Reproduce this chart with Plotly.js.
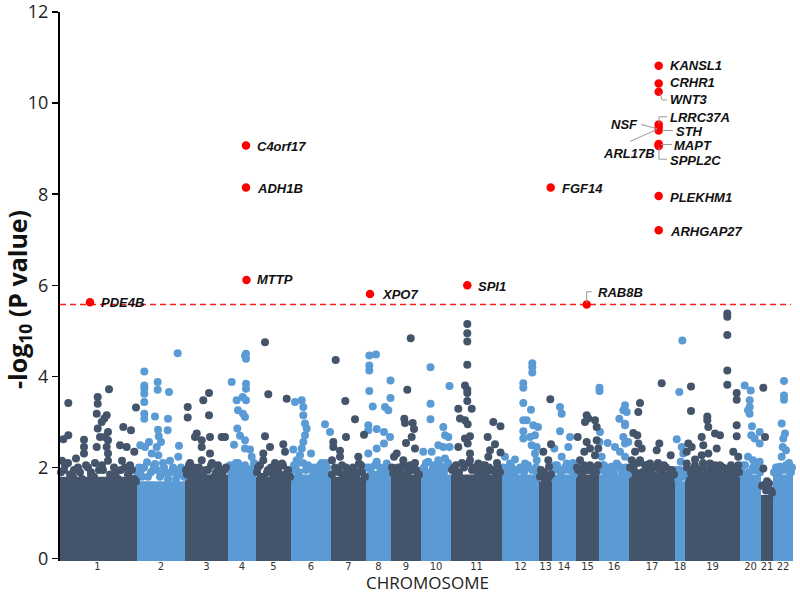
<!DOCTYPE html>
<html>
<head>
<meta charset="utf-8">
<script src="https://cdn.plot.ly/plotly-3.0.1.min.js"></script>
<style>
  html, body { margin: 0; padding: 0; background: #fff; }
  #chart { width: 800px; height: 594px; }
</style>
</head>
<body>
<div id="chart"></div>
<script>
// ---------------- DATA ----------------
// Chromosomes along the x axis (cumulative SNP-index units)
const chrNames = ['1','2','3','4','5','6','7','8','9','10','11','12','13','14','15','16','17','18','19','20','21','22'];
const chrStart = [0, 79, 127, 170, 198, 233, 273, 308, 333, 363, 393, 444, 481, 494, 518, 541, 571, 617, 627, 682, 703, 715];
const chrEnd   = [79, 127, 170, 198, 233, 273, 308, 333, 363, 393, 444, 481, 494, 518, 541, 571, 617, 627, 682, 703, 715, 735];
// top of the saturated band of SNPs in each chromosome, -log10 P
const chrDenseTop = [1.8, 1.7, 1.85, 1.85, 1.8, 1.85, 1.8, 1.85, 1.85, 1.85, 1.85, 1.85, 1.7, 1.85, 1.85, 1.85, 1.9, 1.7, 1.9, 1.85, 1.4, 1.85];

// SNPs at the ragged upper edge of the dense band
const edgePos = [
  3,7,12,16,20,24,28,33,36,41,44,52,56,60,63,67,71,74,78,
  80,83,86,90,93,96,99,103,106,110,113,117,120,123,126,
  129,131,134,138,141,145,150,153,156,160,164,168,
  171,174,177,180,183,187,190,193,196,
  199,202,206,209,213,218,222,225,229,232,
  234,238,241,245,248,252,255,259,262,265,269,272,
  274,277,281,285,288,292,296,300,303,307,
  309,313,317,320,324,328,331,
  334,338,342,345,350,354,357,361,
  364,368,371,375,379,382,386,390,
  394,398,401,406,411,414,418,423,427,431,435,439,442,
  445,449,453,458,462,466,470,474,478,
  482,486,490,493,
  495,499,503,507,511,515,517,
  519,523,526,530,534,538,540,
  542,545,549,552,556,560,564,568,570,
  572,576,580,584,588,592,596,600,604,608,612,616,
  618,622,626,
  629,633,637,641,645,649,653,657,661,665,669,673,677,681,
  683,687,691,695,699,702,
  704,708,711,714,
  716,720,724,728,732,734
];
const edgeLogP = [
  1.9,2.05,1.85,1.95,2.0,1.75,2.05,1.9,1.8,1.95,2.05,1.85,2.0,1.75,1.95,2.0,1.8,1.95,1.7,
  1.85,1.95,2.0,1.8,1.9,2.05,1.95,1.85,2.0,1.75,1.9,1.95,1.85,2.0,1.8,
  1.85,2.05,1.9,1.8,2.0,1.85,1.95,2.05,1.8,1.95,1.85,2.0,
  1.95,1.85,2.0,2.1,1.9,2.05,1.95,1.9,2.1,
  1.9,2.05,1.8,1.9,2.0,1.95,1.85,2.05,1.9,1.8,
  1.95,2.05,1.9,2.1,1.95,2.0,1.85,1.95,2.05,1.9,2.0,1.85,
  1.85,2.0,1.9,1.8,2.0,1.85,1.95,1.9,2.05,1.8,
  2.0,1.9,2.05,1.85,1.95,2.0,1.9,
  2.0,1.85,1.95,2.05,1.9,1.95,2.1,1.85,
  1.95,2.1,1.9,2.0,1.95,2.05,1.9,2.1,
  1.95,2.05,1.9,2.0,2.1,1.95,2.0,1.9,2.05,2.0,1.95,2.1,1.9,
  2.0,1.9,2.05,1.95,2.0,1.9,2.05,1.95,2.0,
  1.8,1.9,1.75,1.85,
  1.95,2.05,1.9,2.0,1.95,2.1,1.9,
  2.0,1.9,2.05,1.95,2.0,1.9,2.05,
  1.95,2.05,1.9,2.0,1.95,2.05,1.9,2.0,1.85,
  2.0,1.95,2.1,1.9,2.05,1.95,2.0,2.1,1.9,2.0,1.95,1.85,
  1.85,1.95,1.8,
  2.0,1.9,2.05,1.95,2.1,1.9,2.0,2.05,1.95,2.0,1.9,2.05,1.95,1.9,
  1.95,2.05,1.9,2.0,1.95,1.9,
  1.6,1.5,1.65,1.45,
  1.9,2.0,1.95,2.05,1.9,2.0
];

// SNPs standing above the dense band: cumulative position and -log10 P
const snpPos = [
  // chr1
  10.3,10.3,5.3,26,26,26,39.7,39.7,38.7,51,48.7,46.3,43.7,39.7,42,47,50,50,48.7,50,38.7,65.3,73,78,62,68.7,76.3,
  10,18,30,37,50,64,72,6,22,45,58,15,33,55,70,76,4,
  // chr2
  86.3,86.3,86.3,86.3,86.3,86.3,86.3,99.7,99.7,111,97,110,100,100.7,103,98.7,100.3,109.7,91,82.3,87,93.7,121,119.7,120.3,105,97,89,
  81,95,108,115,124,84,102,118,112,
  // chr3
  129.7,129.7,145.3,151,151,138.7,137,163.7,167,152,152,143.7,143.7,132,143.7,154,160,
  128,136,148,158,166,140,133,162,
  // chr4
  173.7,178.7,180,179.3,187,188,188,188,188,184.7,188,185,187,187,187,193.7,182,176,192,
  172,178,185,195,181,190,
  // chr5
  207,210.3,228.7,207,212,225.3,227,205.3,205.3,217,224,
  200,210,215,221,230,203,226,
  // chr6
  237,243.7,245.3,245.3,247,248.7,247,245.3,243.7,267,272,253,238.7,242,263.7,262,235.3,
  236,250,256,268,240,258,266,
  // chr7
  277.7,287.3,297,288,306,275.3,275.3,282,282,300.3,301,274,284,
  278,290,295,304,286,298,
  // chr8
  311.3,318,311.3,311.3,311.3,314.7,332.5,332.5,327,330.3,310.3,310.3,318.7,326,326,332,318.7,310.3,318.7,328.7,
  312,322,330,315,326,
  // chr9
  352.7,349.3,346.3,347,354.7,356,353.7,348,357,336,338.7,345.3,335.3,347,
  340,352,358,343,360,
  // chr10
  372.5,372.5,372.5,365.3,391.5,385.3,387,390.3,380.3,385.3,391.5,373.7,370.3,380.3,387,377,383.7,
  366,376,389,369,381,
  // chr11
  409.3,409.3,409.3,409.3,407,409.3,409.3,409.3,400.3,413.7,402,407,409.7,435.3,442.5,412,407,409.7,429.7,400.3,437,432,430.3,412,412,420.3,428.7,437.7,442.5,
  396,404,416,424,440,398,420,433,
  // chr12
  474.3,474.3,474.3,465.3,465.3,465.3,473,465.3,468.7,475.3,480,477,472,465.3,465.3,473.7,478.7,477,478.7,457,452,467,447,453.7,447,
  450,460,470,479,456,
  // chr13
  492.3,493,485.3,490.3,491,484,487,
  483,489,
  // chr14
  502,503.7,502,512,496.3,503.7,508.7,510.3,500.3,
  497,506,514,516,
  // chr15
  528.7,530.3,527,537,538.7,519.7,528.7,538.7,526.3,532,540.3,522,532,527,537,
  520,535,524,
  // chr16
  541.5,541.5,549.7,542,541.5,543.7,542,552,567,565.3,568.7,561.3,567,567,565.3,567,557,562,570.3,558.7,567,553.7,
  546,556,563,570,548,
  // chr17
  603.7,582,580.3,575.3,579.3,601.3,598.7,580.3,583.7,612.7,577,582,587,592,597,573.7,578.7,602,608.7,593.7,
  575,590,606,614,585,
  // chr18
  624.3,621.3,618.7,623.7,622.7,625.3,620.3,
  619,625,
  // chr19
  669.3,669.3,669.3,669.3,669.3,633,678.7,678.7,633,649.3,649.3,650.3,678.7,657,662,678.7,643.7,645.3,630.3,633.7,658.7,650.3,643.7,637,652,675.3,680.3,670.3,680.3,628.7,628.7,632,638.7,665.3,
  635,645,655,662,672,680,640,668,
  // chr20
  686.7,692.7,691.7,691.7,690,691.7,694,693.3,696.7,701.7,701.7,690,695,698.3,701.7,683.3,
  685,697,688,
  // chr21
  705.3,707,705.3,706,
  709,713,
  // chr22
  726,726,726,723.7,727,725.3,724.7,728,723.7,722,728.7,
  718,731,733,720
];
const snpLogP = [
  // chr1
  3.42,2.71,2.62,2.61,2.45,2.31,3.55,3.40,3.18,3.72,3.15,3.08,3.0,2.86,2.67,2.67,2.78,2.6,2.45,2.31,2.45,2.89,2.82,3.32,2.49,2.45,2.35,
  2.1,2.2,2.0,2.1,2.15,2.15,2.05,1.95,1.9,1.95,1.9,1.8,1.85,1.8,1.85,1.75,2.15,
  // chr2
  4.11,3.80,3.73,3.62,3.44,3.18,3.07,3.88,3.71,3.66,3.12,3.07,2.83,2.69,2.56,2.45,2.27,2.82,2.56,2.49,2.45,2.31,2.48,4.51,2.24,2.1,2.08,2.12,
  2.0,1.95,1.9,2.0,1.9,1.8,1.8,1.75,2.15,
  // chr3
  3.33,3.10,3.48,3.64,3.15,2.75,2.67,2.67,2.67,2.67,2.31,2.6,2.45,2.1,2.16,2.1,2.05,
  1.95,2.0,1.95,1.9,1.95,1.85,1.8,1.8,
  // chr4
  3.88,3.48,3.26,2.86,4.46,4.50,4.39,3.84,3.73,3.55,3.48,3.18,3.11,2.6,2.42,2.24,2.7,2.5,2.4,
  2.05,2.1,2.0,2.0,1.9,1.85,
  // chr5
  4.75,3.61,3.51,2.69,2.45,2.51,2.35,2.31,2.16,2.1,2.09,
  2.0,1.95,1.85,2.0,1.95,1.8,1.8,
  // chr6
  3.44,3.48,3.33,3.15,2.97,2.86,2.71,2.56,2.42,2.95,2.78,2.31,2.16,2.27,2.1,2.0,2.4,
  2.05,2.05,2.0,2.1,1.9,1.85,1.9,
  // chr7
  4.36,3.46,3.06,2.67,2.72,2.56,2.45,2.37,2.24,2.24,2.09,2.16,2.05,
  1.95,1.95,2.0,1.9,1.85,1.8,
  // chr8
  4.46,4.48,4.24,4.13,3.68,3.34,3.91,3.53,3.33,3.26,2.93,2.82,2.85,2.78,2.53,2.67,2.42,2.31,2.13,2.09,
  2.0,2.0,1.95,1.85,1.85,
  // chr9
  4.84,3.71,3.07,2.98,2.98,2.85,2.67,2.54,2.42,2.24,2.31,2.16,1.87,2.02,
  2.0,2.05,1.95,1.85,1.85,
  // chr10
  4.2,3.40,3.06,2.35,3.79,2.89,2.71,2.67,2.49,2.45,2.45,2.35,2.13,2.16,2.2,1.87,1.95,
  2.0,2.05,2.0,1.85,1.8,
  // chr11
  5.15,4.95,4.77,4.26,3.80,3.71,3.64,3.46,3.29,3.29,3.08,3.04,2.95,3.00,2.91,2.69,2.64,2.53,2.67,2.45,2.51,2.38,2.24,2.31,2.16,2.09,1.91,1.87,2.33,
  2.0,2.1,2.0,2.05,2.0,1.85,1.85,1.95,
  // chr12
  4.29,4.2,4.09,3.85,3.75,3.42,3.27,3.04,3.04,2.93,2.89,2.71,2.67,2.8,2.64,2.49,2.45,2.31,2.16,2.18,2.09,2.09,2.24,1.95,1.87,
  2.0,1.95,2.0,1.9,1.85,
  // chr13
  3.50,2.51,2.35,2.16,2.02,1.87,1.73,
  1.95,1.8,
  // chr14
  3.33,3.18,2.80,2.67,2.42,2.24,2.09,2.45,1.95,
  2.05,1.95,2.05,1.85,
  // chr15
  3.15,3.08,3.0,3.04,2.89,2.67,2.56,2.6,2.35,2.42,2.42,2.16,2.05,1.95,2.27,
  1.95,1.9,1.85,
  // chr16
  3.75,3.68,2.54,2.78,2.56,2.24,2.02,1.98,3.37,3.26,3.22,3.07,2.96,2.93,2.67,2.53,2.45,2.35,2.56,2.09,2.24,2.02,
  2.05,1.85,2.0,1.9,1.85,
  // chr17
  3.85,3.42,3.22,2.76,2.71,2.53,2.38,2.53,2.42,2.27,2.35,2.16,2.05,2.09,2.0,2.16,1.87,1.95,1.8,1.87,
  2.0,1.95,2.05,1.95,1.85,
  // chr18
  4.79,3.66,2.62,2.45,2.13,2.31,1.73,
  1.95,1.9,
  // chr19
  5.38,5.31,4.91,4.13,3.82,3.78,3.64,3.49,3.24,3.12,3.04,2.89,2.93,2.75,2.71,2.69,2.67,2.49,2.53,2.45,2.42,2.31,2.27,2.18,2.09,2.35,2.24,1.98,2.05,2.35,2.09,1.73,1.69,1.69,
  1.95,2.0,1.9,2.05,1.95,1.9,1.85,1.85,
  // chr20
  3.80,3.69,3.48,3.33,3.26,3.18,2.91,2.71,2.64,2.78,2.53,2.24,2.16,2.09,2.13,1.87,
  2.05,1.95,1.85,
  // chr21
  3.75,2.67,1.98,1.62,
  1.7,1.5,
  // chr22
  3.90,3.58,3.49,2.97,2.75,2.64,2.45,2.38,2.24,2.02,1.95,
  2.0,2.1,1.9,1.85
];

// Genome-wide significant hits (red)
const hitGene = ['PDE4B','MTTP','ADH1B','C4orf17','XPO7','SPI1','FGF14','RAB8B',
                 'KANSL1','CRHR1','WNT3','NSF','LRRC37A','STH','MAPT','ARL17B','SPPL2C','PLEKHM1','ARHGAP27'];
const hitPos  = [32, 188.5, 188, 188, 312, 409.3, 492.7, 528.7,
                 600.7, 600.7, 600.7, 600.7, 600.7, 600.7, 600.7, 600.7, 600.7, 600.7, 600.7];
const hitLogP = [5.63, 6.12, 8.15, 9.07, 5.81, 6.00, 8.15, 5.58,
                 10.82, 10.43, 10.25, 9.53, 9.47, 9.40, 9.10, 9.08, 9.06, 7.96, 7.21];

const threshold = 5.58; // -log10 P significance line

// ---------------- STYLE / LAYOUT ----------------
const darkColor = '#44546a';
const lightColor = '#5b9bd5';
const chrColor = i => (i % 2 === 0 ? darkColor : lightColor);

// label placement: [x, y, anchor] for each hit (same order as hitGene)
const labelPlace = [
  [42, 5.62, 'left'], [198, 6.12, 'left'], [198, 8.13, 'left'], [198, 9.05, 'left'],
  [323, 5.79, 'left'], [419, 5.97, 'left'], [503, 8.13, 'left'], [539, 5.84, 'left'],
  [611, 10.82, 'left'], [611, 10.45, 'left'], [611, 10.07, 'left'], [581, 9.53, 'right'],
  [611, 9.68, 'left'], [617, 9.38, 'left'], [615, 9.07, 'left'], [598, 8.90, 'right'],
  [611, 8.74, 'left'], [611, 7.93, 'left'], [611, 7.19, 'left']
];
// leader lines (gray) in data coordinates
const leaders = [
  [[602,10.22],[604,10.07],[609,10.07]],           // WNT3
  [[601,9.55],[601,9.70],[609,9.70]],              // LRRC37A
  [[604,9.40],[615,9.40]],                          // STH
  [[583,9.53],[599,9.44]],                          // NSF
  [[572,9.16],[599,9.42]],                          // ARL17B
  [[603,9.09],[614,9.09]],                          // MAPT
  [[601,9.03],[601,8.77],[609,8.77]],              // SPPL2C
  [[528.7,5.62],[528.7,5.86],[533.7,5.86]]         // RAB8B
];

const traces = [];
// saturated band per chromosome
chrNames.forEach((c, i) => {
  const s = chrStart[i], e = chrEnd[i], h = chrDenseTop[i];
  traces.push({
    type: 'scatter', mode: 'lines',
    x: [s, s, e, e, s], y: [-0.08, h, h, -0.08, -0.08],
    fill: 'toself', fillcolor: chrColor(i),
    line: { width: 0, color: chrColor(i) },
    hoverinfo: 'skip', showlegend: false
  });
});
function chrIndexOf(p) {
  for (let i = 0; i < chrStart.length; i++) {
    if (p >= chrStart[i] && p < chrEnd[i]) return i;
  }
  return chrStart.length - 1;
}
const darkX = [], darkY = [], lightX = [], lightY = [];
function addPts(P, V) {
  P.forEach((p, k) => {
    const i = chrIndexOf(p);
    if (i % 2 === 0) { darkX.push(p); darkY.push(V[k]); }
    else { lightX.push(p); lightY.push(V[k]); }
  });
}
addPts(edgePos, edgeLogP);
addPts(snpPos, snpLogP);
traces.push({
  type: 'scatter', mode: 'markers', x: lightX, y: lightY,
  marker: { color: lightColor, size: 8 }, cliponaxis: false,
  hoverinfo: 'skip', showlegend: false
});
traces.push({
  type: 'scatter', mode: 'markers', x: darkX, y: darkY,
  marker: { color: darkColor, size: 8 }, cliponaxis: false,
  hoverinfo: 'skip', showlegend: false
});
traces.push({
  type: 'scatter', mode: 'markers', x: hitPos, y: hitLogP, text: hitGene,
  marker: { color: '#ff0000', size: 8.5 }, cliponaxis: false,
  hoverinfo: 'text', showlegend: false
});

const annotations = hitGene.map((g, k) => ({
  x: labelPlace[k][0], y: labelPlace[k][1], xref: 'x', yref: 'y',
  text: '<b><i>' + g + '</i></b>', showarrow: false,
  xanchor: labelPlace[k][2], yanchor: 'middle', borderpad: 0,
  font: { family: 'Liberation Sans, Arial, sans-serif', size: 13, color: '#111' }
}));

const shapes = [{
  type: 'line', xref: 'x', yref: 'y', x0: 2, x1: 733, y0: threshold, y1: threshold,
  line: { color: '#ff1a1a', width: 1.5, dash: '6px,4px' }, layer: 'below'
}];
leaders.forEach(pts => {
  shapes.push({
    type: 'path', xref: 'x', yref: 'y',
    path: pts.map((p, j) => (j === 0 ? 'M' : 'L') + p[0] + ',' + p[1]).join(' '),
    line: { color: '#9a9a9a', width: 1 }, layer: 'above'
  });
});

const tickvals = chrNames.map((c, i) => (chrStart[i] + chrEnd[i]) / 2);

const layout = {
  width: 800, height: 594,
  margin: { l: 60, r: 5, t: 12, b: 33 },
  paper_bgcolor: '#ffffff', plot_bgcolor: '#ffffff',
  showlegend: false,
  xaxis: {
    range: [2, 737], showgrid: false, zeroline: false, showline: false,
    tickmode: 'array', tickvals: tickvals, ticktext: chrNames,
    ticks: '', ticklabelstandoff: -2,
    tickfont: { family: 'DejaVu Sans', size: 10, color: '#333' },
    title: { text: 'CHROMOSOME', font: { family: 'Open Sans, sans-serif', size: 17, color: '#222' }, standoff: 0 },
    fixedrange: true
  },
  yaxis: {
    range: [-0.05, 12.0], showgrid: false, zeroline: false,
    showline: true, linecolor: '#000', linewidth: 2,
    ticks: 'outside', ticklen: 6, tickwidth: 1.5, tickcolor: '#000',
    tickvals: [0, 2, 4, 6, 8, 10, 12], ticklabeloverflow: 'allow',
    tickfont: { family: 'Open Sans, sans-serif', size: 18, color: '#222' },
    title: { text: '<b>-log<sub>10</sub> (P value)&nbsp;&nbsp;&nbsp;&nbsp;</b>', font: { family: 'Open Sans, Liberation Sans, sans-serif', size: 25, color: '#111' }, standoff: 8 },
    fixedrange: true
  },
  annotations: annotations,
  shapes: shapes
};

Plotly.newPlot('chart', traces, layout, { displayModeBar: false, staticPlot: true });
</script>
</body>
</html>
